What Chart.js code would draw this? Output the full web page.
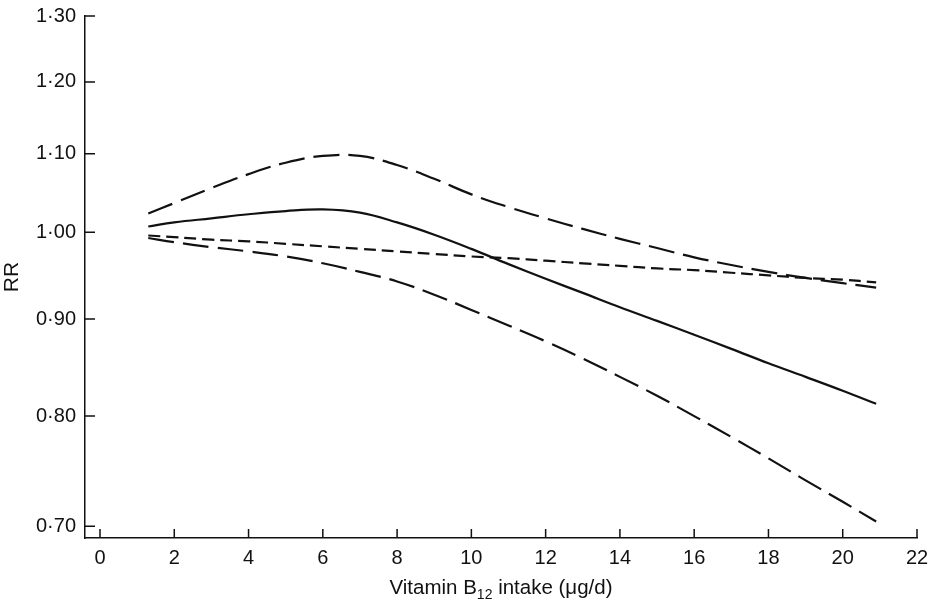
<!DOCTYPE html>
<html>
<head>
<meta charset="utf-8">
<script src="https://cdn.jsdelivr.net/npm/chart.js@4.4.1/dist/chart.umd.min.js"></script>
<style>
  body { margin: 0; background: #fff; }
</style>
</head>
<body>
<canvas id="rr-chart" width="929" height="604"></canvas>
<script>
// vitamin B12 intake (ug/d) where the curves were read
const intake = [1.3, 2, 3, 4, 5, 6, 7, 8, 9, 10, 11, 12, 13, 14, 15, 16, 17, 18, 19, 20, 20.9]

// relative risk: spline estimate, its 95% CI, and the linear trend
const rrSpline = [1.007, 1.012, 1.017, 1.022, 1.026, 1.028, 1.024, 1.012, 0.997, 0.980, 0.962, 0.945, 0.929, 0.913, 0.898, 0.883, 0.868, 0.853, 0.839, 0.825, 0.812]
const rrUpper = [1.023, 1.036, 1.055, 1.073, 1.088, 1.097, 1.097, 1.085, 1.067, 1.047, 1.031, 1.017, 1.004, 0.992, 0.981, 0.970, 0.961, 0.953, 0.946, 0.940, 0.935]
const rrLower = [0.993, 0.988, 0.982, 0.977, 0.971, 0.963, 0.953, 0.942, 0.927, 0.910, 0.893, 0.876, 0.858, 0.839, 0.820, 0.800, 0.780, 0.760, 0.740, 0.721, 0.704]
const rrLinear = [0.996, 0.994, 0.991, 0.989, 0.986, 0.983, 0.980, 0.977, 0.974, 0.971, 0.969, 0.966, 0.963, 0.960, 0.957, 0.955, 0.952, 0.949, 0.946, 0.944, 0.941]

const xTicks = [0, 2, 4, 6, 8, 10, 12, 14, 16, 18, 20, 22]
const yTicks = [0.70, 0.80, 0.90, 1.00, 1.10, 1.20, 1.30]

const ink = '#111'
const fontFamily = '"Liberation Sans", Arial, Helvetica, sans-serif'

const toPoints = values => values.map((v, i) => ({ x: intake[i], y: v }))

const curve = (label, values, dash) => ({
  label: label,
  data: toPoints(values),
  borderColor: ink,
  borderWidth: 2.2,
  borderDash: dash,
  pointRadius: 0,
  fill: false,
  tension: 0.4
})

// tick marks point into the plot, and the x title needs a subscript
const axisDecor = {
  id: 'axisDecor',
  afterDraw(chart) {
    const ctx = chart.ctx
    const area = chart.chartArea
    const xs = chart.scales.x
    const ys = chart.scales.y
    ctx.save()
    ctx.strokeStyle = ink
    ctx.lineWidth = 1.5
    ctx.beginPath()
    xTicks.forEach(v => {
      const px = xs.getPixelForValue(v)
      ctx.moveTo(px, area.bottom)
      ctx.lineTo(px, area.bottom - 9)
    })
    yTicks.forEach(v => {
      const py = ys.getPixelForValue(v)
      ctx.moveTo(area.left, py)
      ctx.lineTo(area.left + 10, py)
    })
    ctx.stroke()

    const main = '20.5px ' + fontFamily
    const sub = '14px ' + fontFamily
    const parts = [['Vitamin B', main, 0], ['12', sub, 5], [' intake (μg/d)', main, 0]]
    let total = 0
    parts.forEach(p => { ctx.font = p[1]; total += ctx.measureText(p[0]).width })
    let cx = (area.left + area.right) / 2 - total / 2
    const base = 594
    ctx.fillStyle = ink
    ctx.textBaseline = 'alphabetic'
    ctx.textAlign = 'left'
    parts.forEach(p => {
      ctx.font = p[1]
      ctx.fillText(p[0], cx, base + p[2])
      cx += ctx.measureText(p[0]).width
    })
    ctx.restore()
  }
}

const rrChart = new Chart(document.getElementById('rr-chart'), {
  type: 'line',
  plugins: [axisDecor],
  data: {
    datasets: [
      curve('Upper 95% CI', rrUpper, [26, 9]),
      curve('RR', rrSpline, []),
      curve('Linear trend', rrLinear, [12, 6]),
      curve('Lower 95% CI', rrLower, [26, 9])
    ]
  },
  options: {
    responsive: false,
    animation: false,
    layout: {
      padding: { top: 16, right: 12, left: 0, bottom: 0 }
    },
    scales: {
      x: {
        type: 'linear',
        min: -0.404,
        max: 22,
        afterFit: scale => {
          scale.height = 66
          scale.paddingLeft = 0
          scale.paddingRight = 0
        },
        afterBuildTicks: scale => { scale.ticks = xTicks.map(v => ({ value: v })) },
        grid: { display: false, drawTicks: false },
        border: { display: true, color: ink, width: 1.5 },
        ticks: {
          padding: 8,
          color: ink,
          font: { family: fontFamily, size: 20 },
          maxRotation: 0
        }
      },
      y: {
        type: 'logarithmic',
        min: 0.6916,
        max: 1.30,
        afterFit: scale => {
          scale.width = 85
          scale.paddingTop = 0
          scale.paddingBottom = 0
        },
        afterBuildTicks: scale => { scale.ticks = yTicks.map(v => ({ value: v })) },
        grid: { display: false, drawTicks: false },
        border: { display: true, color: ink, width: 1.5 },
        title: {
          display: true,
          text: 'RR',
          color: ink,
          padding: 0,
          font: { family: fontFamily, size: 21 }
        },
        ticks: {
          padding: 9,
          color: ink,
          font: { family: fontFamily, size: 20 },
          callback: value => Number(value).toFixed(2).replace('.', '·')
        }
      }
    },
    plugins: {
      legend: { display: false },
      tooltip: { enabled: false }
    }
  }
})
</script>
</body>
</html>
